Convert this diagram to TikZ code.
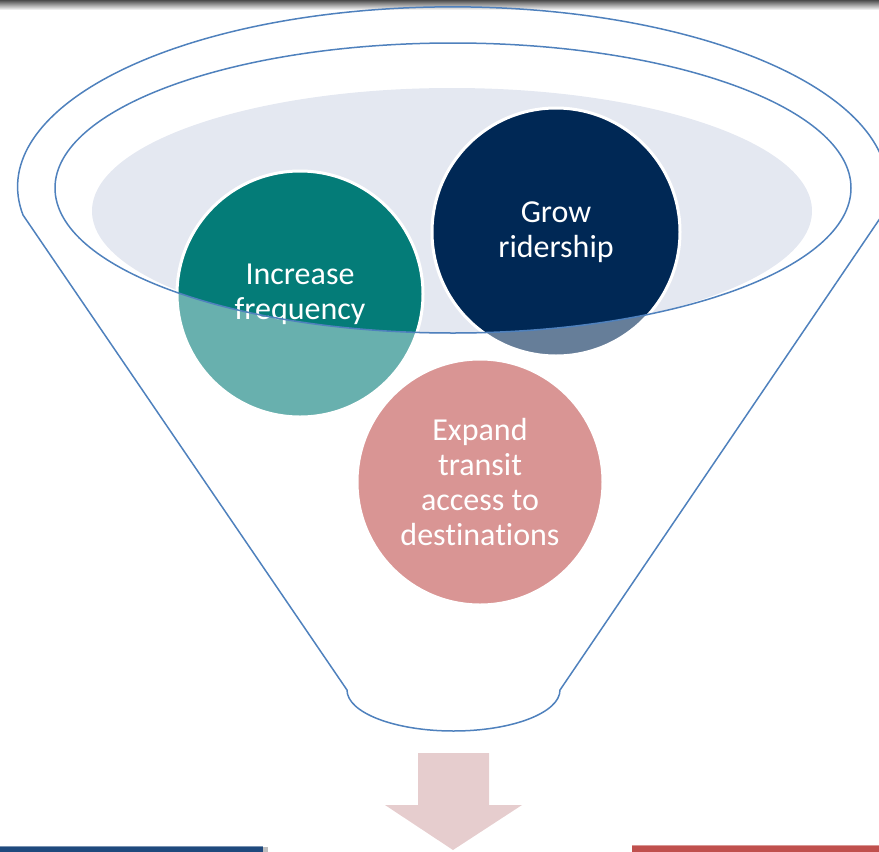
\documentclass[tikz,border=0pt]{standalone}
\usepackage{fontspec}
\setmainfont[Ligatures=NoCommon]{Carlito}
\definecolor{funnelblue}{RGB}{79,129,189}
\definecolor{bowlgray}{RGB}{228,232,241}
\definecolor{tealc}{RGB}{4,124,120}
\definecolor{navyc}{RGB}{0,40,85}
\definecolor{pinkc}{RGB}{217,149,148}
\definecolor{arrowpink}{RGB}{230,205,206}
\definecolor{barblue}{RGB}{31,73,125}
\definecolor{barred}{RGB}{192,80,77}
\tikzset{
  bubble/.style={circle, draw=white, line width=3pt, minimum size=#1, inner sep=0pt},
  bubbletext/.style={text=white, align=center, font=\fontsize{32}{35}\selectfont},
  funnelline/.style={draw=funnelblue, line width=1.5pt}
}
\begin{document}
\begin{tikzpicture}[x=1pt,y=-1pt]
\useasboundingbox (0,0) rectangle (879,852);
% top shadow bar
\shade[top color=black!70, bottom color=white] (0,0) rectangle (879,10);
% bowl fill
\fill[bowlgray] (452,211) ellipse [x radius=360, y radius=123];
% bubbles
\node[bubble=246pt, fill=tealc] (incC) at (300,294) {};
\node[bubble=248pt, fill=navyc] (growC) at (556,232) {};
% wash below the rim
\begin{scope}
  \clip (300,294) circle [radius=122];
  \fill[white, opacity=0.4, even odd rule] (0,0) rectangle (879,852) (453,188) ellipse [x radius=398, y radius=145];
\end{scope}
\begin{scope}
  \clip (556,232) circle [radius=123];
  \fill[white, opacity=0.4, even odd rule] (0,0) rectangle (879,852) (453,188) ellipse [x radius=398, y radius=145];
\end{scope}
\node[bubble=246pt, fill=pinkc] (expC) at (480,482) {};
% texts
\node[bubbletext] (incT) at (incC) {Increase\\frequency};
\node[bubbletext] (growT) at (growC) {Grow\\ridership};
\node[bubbletext] (expT) at (expC) {Expand\\transit\\access to\\destinations};
% inner rim
\draw[funnelline] (453,188) ellipse [x radius=398, y radius=145];
% outer funnel
\draw[funnelline, line join=round] (23,215) arc[start angle=171, end angle=369, x radius=435, y radius=180]
  -- (560,690) arc[start angle=0, end angle=180, x radius=106.5, y radius=41] -- cycle;
% arrow
\fill[arrowpink] (418,753) -- (489,753) -- (489,805) -- (522,805) -- (453,850) -- (385,805) -- (418,805) -- cycle;
% bottom bars
\fill[black!25] (263,847) rectangle (268,852);
\fill[barblue] (0,846) rectangle (263,852);
\draw[barblue!60!white, line width=0.8pt] (0,846.4) -- (263,846.4);
\fill[barred] (632,845) rectangle (879,852);
\draw[barred!60!white, line width=0.8pt] (632,845.4) -- (879,845.4);
\end{tikzpicture}
\end{document}
